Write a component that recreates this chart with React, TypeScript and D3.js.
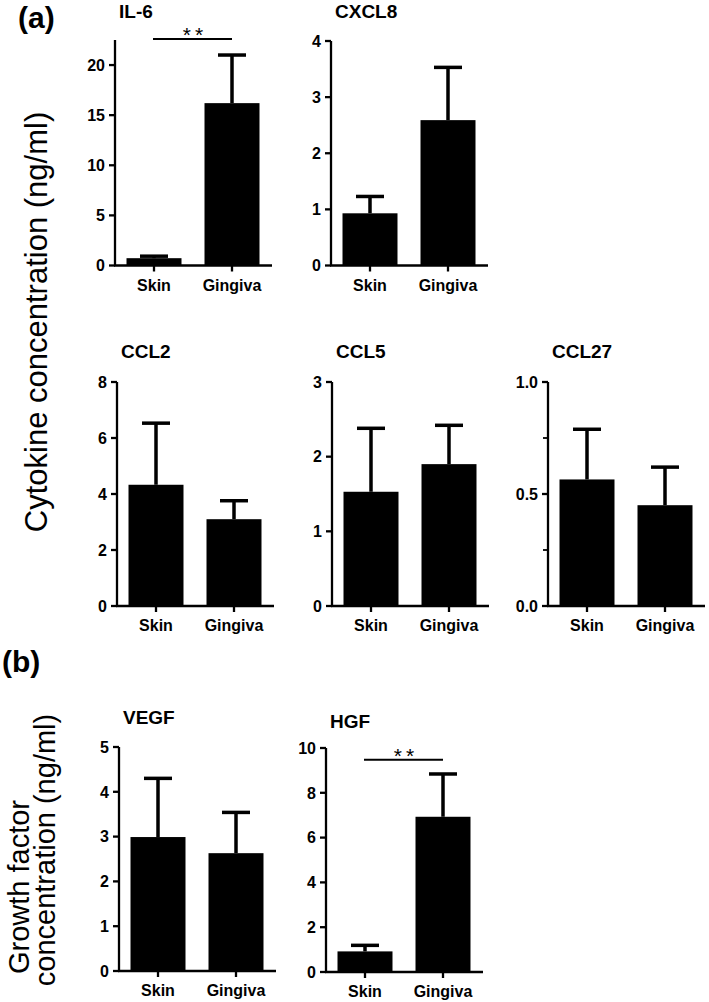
import React from "react";
import * as d3 from "d3";

const groups = ["Skin", "Gingiva"];

const il6Mean = [0.73, 16.2];
const il6Err = [0.2, 4.8];
const cxcl8Mean = [0.93, 2.59];
const cxcl8Err = [0.3, 0.94];
const ccl2Mean = [4.33, 3.1];
const ccl2Err = [2.2, 0.66];
const ccl5Mean = [1.53, 1.9];
const ccl5Err = [0.85, 0.52];
const ccl27Mean = [0.565, 0.45];
const ccl27Err = [0.224, 0.17];
const vegfMean = [2.99, 2.63];
const vegfErr = [1.31, 0.91];
const hgfMean = [0.92, 6.93];
const hgfErr = [0.27, 1.91];

const il6Ticks = [0, 5, 10, 15, 20];
const cxcl8Ticks = [0, 1, 2, 3, 4];
const ccl2Ticks = [0, 2, 4, 6, 8];
const ccl5Ticks = [0, 1, 2, 3];
const ccl27Ticks = [0, 0.5, 1.0];
const ccl27Minor = [0.25, 0.75];
const vegfTicks = [0, 1, 2, 3, 4, 5];
const hgfTicks = [0, 2, 4, 6, 8, 10];

type Panel = {
  title: string;
  mean: number[];
  err: number[];
  ticks: number[];
  minor?: number[];
  max: number;
  fmt?: string;
  x: number;
  top: number;
  bottom: number;
  titleY: number;
  sig?: number;
};

const panels: Panel[] = [
  { title: "IL-6", mean: il6Mean, err: il6Err, ticks: il6Ticks, max: 22.5, x: 115, top: 40, bottom: 265.5, titleY: 18, sig: 22.6 },
  { title: "CXCL8", mean: cxcl8Mean, err: cxcl8Err, ticks: cxcl8Ticks, max: 4, x: 331, top: 41, bottom: 265.5, titleY: 18 },
  { title: "CCL2", mean: ccl2Mean, err: ccl2Err, ticks: ccl2Ticks, max: 8, x: 117, top: 382, bottom: 606, titleY: 358 },
  { title: "CCL5", mean: ccl5Mean, err: ccl5Err, ticks: ccl5Ticks, max: 3, x: 332, top: 382, bottom: 606, titleY: 358 },
  { title: "CCL27", mean: ccl27Mean, err: ccl27Err, ticks: ccl27Ticks, minor: ccl27Minor, max: 1, fmt: ".1f", x: 548, top: 382, bottom: 606, titleY: 358 },
  { title: "VEGF", mean: vegfMean, err: vegfErr, ticks: vegfTicks, max: 5, x: 119, top: 747, bottom: 971, titleY: 724 },
  { title: "HGF", mean: hgfMean, err: hgfErr, ticks: hgfTicks, max: 10, x: 326, top: 748, bottom: 972, titleY: 728, sig: 9.48 },
];

const FONT = "'Liberation Sans', Arial, Helvetica, sans-serif";

function BarPanel({ p }: { p: Panel }) {
  const y = d3.scaleLinear().domain([0, p.max]).range([p.bottom, p.top]);
  const xs = d3.scaleBand<string>().domain(groups).range([0, 156]).paddingInner(0.295).paddingOuter(0.1475);
  const bw = xs.bandwidth();
  const cap = 28;
  const fmt = p.fmt ? d3.format(p.fmt) : d3.format("d");
  return (
    <g transform={`translate(${p.x},0)`} fontFamily={FONT}>
      <text x={4} y={p.titleY} fontSize={19} fontWeight="bold">{p.title}</text>
      {groups.map((g, i) => {
        const cx = (xs(g) as number) + bw / 2;
        const topV = p.mean[i] + p.err[i];
        return (
          <g key={g}>
            <line x1={cx} x2={cx} y1={y(p.mean[i])} y2={y(topV)} stroke="#000" strokeWidth={3.5} />
            <line x1={cx - cap / 2} x2={cx + cap / 2} y1={y(topV)} y2={y(topV)} stroke="#000" strokeWidth={3.5} />
            <rect x={xs(g)} y={y(p.mean[i])} width={bw} height={p.bottom - y(p.mean[i])} fill="#000" />
            <line x1={cx} x2={cx} y1={p.bottom} y2={p.bottom + 6} stroke="#000" strokeWidth={2.3} />
            <text x={cx} y={p.bottom + 25} textAnchor="middle" fontSize={16} fontWeight="bold">{g}</text>
          </g>
        );
      })}
      <line x1={0} x2={0} y1={p.top} y2={p.bottom} stroke="#000" strokeWidth={2.3} />
      <line x1={-1} x2={157} y1={p.bottom} y2={p.bottom} stroke="#000" strokeWidth={2.3} />
      {p.ticks.map((t) => (
        <g key={t}>
          <line x1={-6} x2={0} y1={y(t)} y2={y(t)} stroke="#000" strokeWidth={2.3} />
          <text x={-10} y={y(t)} dy="0.36em" textAnchor="end" fontSize={16} fontWeight="bold">{fmt(t)}</text>
        </g>
      ))}
      {(p.minor || []).map((t) => (
        <line key={t} x1={-5} x2={0} y1={y(t)} y2={y(t)} stroke="#000" strokeWidth={1.8} />
      ))}
      {p.sig !== undefined && (() => {
        const c0 = (xs(groups[0]) as number) + bw / 2;
        const c1 = (xs(groups[1]) as number) + bw / 2;
        const ys = y(p.sig);
        return (
          <g>
            <line x1={c0 - 1} x2={c1} y1={ys} y2={ys} stroke="#000" strokeWidth={2} />
            <text x={(c0 + c1) / 2 + 2} y={ys + 3} textAnchor="middle" fontSize={21} letterSpacing={4}>**</text>
          </g>
        );
      })()}
    </g>
  );
}

export default function App() {
  return (
    <svg width={709} height={1002} style={{ display: "block", position: "absolute", left: 0, top: 0 }}>
      <rect width={709} height={1002} fill="#fff" />
      <text x={18} y={28} fontFamily={FONT} fontSize={30} fontWeight="bold">(a)</text>
      <text x={2} y={672} fontFamily={FONT} fontSize={30} fontWeight="bold">(b)</text>
      <text transform="translate(47,322) rotate(-90)" textAnchor="middle" fontFamily={FONT} fontSize={31}>Cytokine concentration (ng/ml)</text>
      <text transform="translate(29,887) rotate(-90)" textAnchor="middle" fontFamily={FONT} fontSize={29}>Growth factor</text>
      <text transform="translate(55,850) rotate(-90)" textAnchor="middle" fontFamily={FONT} fontSize={29}>concentration (ng/ml)</text>
      {panels.map((p) => (
        <BarPanel key={p.title} p={p} />
      ))}
    </svg>
  );
}
